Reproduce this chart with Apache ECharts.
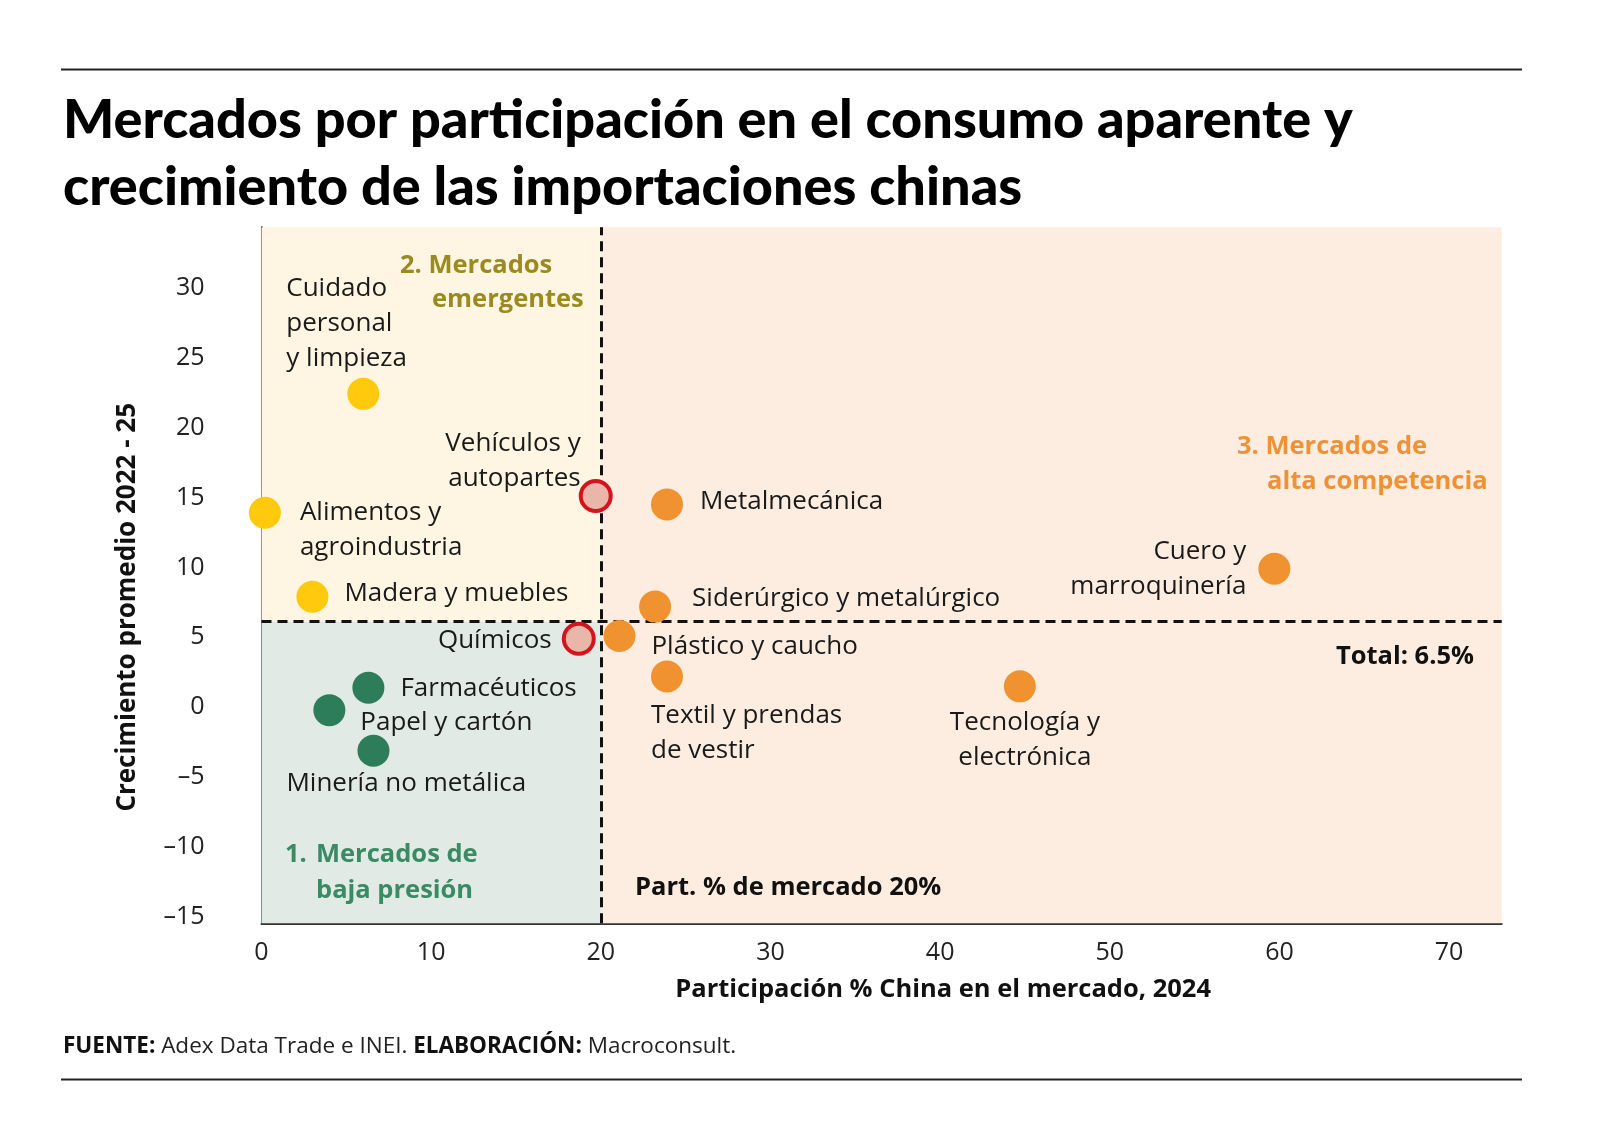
<!DOCTYPE html>
<html>
<head>
<meta charset="utf-8">
<script src="https://cdn.jsdelivr.net/npm/echarts@6/dist/echarts.min.js"></script>
<style>
  html, body { margin: 0; padding: 0; background: #fff; }
  #chart { width: 1600px; height: 1125px; }
</style>
</head>
<body>
<div id="chart"></div>
<script>
// datos
const sectors = [
  'Cuidado personal y limpieza', 'Alimentos y agroindustria', 'Madera y muebles',
  'Vehículos y autopartes', 'Químicos', 'Farmacéuticos', 'Papel y cartón',
  'Minería no metálica', 'Metalmecánica', 'Siderúrgico y metalúrgico',
  'Plástico y caucho', 'Textil y prendas de vestir', 'Tecnología y electrónica',
  'Cuero y marroquinería'
]
const shareChina = [6.0, 0.2, 3.0, 19.7, 18.7, 6.3, 4.0, 6.6, 23.9, 23.2, 21.1, 23.9, 44.7, 59.7]
const growth = [22.4, 13.9, 7.9, 15.1, 4.9, 1.4, -0.2, -3.1, 14.5, 7.2, 5.1, 2.2, 1.5, 9.9]
const group = ['emergente', 'emergente', 'emergente', 'limite', 'limite', 'baja', 'baja',
  'baja', 'alta', 'alta', 'alta', 'alta', 'alta', 'alta']
const xTicks = [0, 10, 20, 30, 40, 50, 60, 70]
const yTicks = [-15, -10, -5, 0, 5, 10, 15, 20, 25, 30]
const totalGrowth = 6.15   // línea "Total: 6.5%" tal como aparece dibujada
const shareLimit = 20
const xMin = 0
const xMax = 73.1
const yMin = -15.43
const yMax = 34.3

const FONT = '"Open Sans"'
const TITLE_FONT = 'Lato'

// etiquetas de cada punto: texto y colocación
const labelLayout = {
  'Cuidado personal y limpieza': { text: 'Cuidado\npersonal\ny limpieza', offset: [-77, -70], align: 'left' },
  'Alimentos y agroindustria': { text: 'Alimentos y\nagroindustria', offset: [35, 17], align: 'left' },
  'Madera y muebles': { text: 'Madera y muebles', offset: [32, -3], align: 'left' },
  'Vehículos y autopartes': { text: 'Vehículos y\nautopartes', offset: [-15, -35], align: 'right' },
  'Químicos': { text: 'Químicos', offset: [-27, 2], align: 'right' },
  'Farmacéuticos': { text: 'Farmacéuticos', offset: [32, 1], align: 'left' },
  'Papel y cartón': { text: 'Papel y cartón', offset: [31, 12], align: 'left' },
  'Minería no metálica': { text: 'Minería no metálica', offset: [-87, 33], align: 'left' },
  'Metalmecánica': { text: 'Metalmecánica', offset: [33, -3], align: 'left' },
  'Siderúrgico y metalúrgico': { text: 'Siderúrgico y metalúrgico', offset: [37, -8], align: 'left' },
  'Plástico y caucho': { text: 'Plástico y caucho', offset: [32, 11], align: 'left' },
  'Textil y prendas de vestir': { text: 'Textil y prendas\nde vestir', offset: [-16, 57], align: 'left' },
  'Tecnología y electrónica': { text: 'Tecnología y\nelectrónica', offset: [5, 54], align: 'center' },
  'Cuero y marroquinería': { text: 'Cuero y\nmarroquinería', offset: [-28, 0], align: 'right' }
}

const groupStyle = {
  emergente: { color: '#FFC90E' },
  baja: { color: '#2E7D5A' },
  alta: { color: '#F0922F' },
  limite: { color: '#EBB6AA', borderColor: '#D3141C', borderWidth: 4 }
}

const buildSeries = (key) => {
  const data = []
  sectors.forEach((name, i) => {
    if (group[i] !== key) return
    const l = labelLayout[name]
    data.push({
      name: name,
      value: [shareChina[i], growth[i]],
      label: {
        show: true,
        position: 'inside',
        formatter: l.text,
        offset: l.offset,
        align: l.align,
        verticalAlign: 'middle',
        fontFamily: FONT,
        fontSize: 26,
        lineHeight: 35,
        color: '#1a1a1a'
      }
    })
  })
  return {
    type: 'scatter',
    name: key,
    symbolSize: key === 'limite' ? 30 : 32,
    itemStyle: Object.assign({ opacity: 1 }, groupStyle[key]),
    data: data,
    z: 5
  }
}

const chart = echarts.init(document.getElementById('chart'))

const boldText = (x, y, text, color, align) => ({
  type: 'text', x: x, y: y, z: 10,
  style: { text: text, fill: color, font: 'bold 25.5px ' + FONT, align: align || 'left', verticalAlign: 'middle' }
})

const option = {
  backgroundColor: '#fff',
  animation: false,
  title: {
    text: 'Mercados por participación en el consumo aparente y\ncrecimiento de las importaciones chinas',
    left: 58,
    top: 82,
    textStyle: {
      fontFamily: TITLE_FONT,
      fontWeight: 900,
      fontSize: 54,
      lineHeight: 67,
      color: '#000'
    }
  },
  grid: {
    left: 261.5,
    right: 98.3,
    top: 227.3,
    bottom: 201.7
  },
  xAxis: {
    type: 'value',
    min: xMin,
    max: xMax,
    interval: 10,
    name: 'Participación % China en el mercado, 2024',
    nameLocation: 'middle',
    nameGap: 53,
    nameTextStyle: {
      fontFamily: FONT,
      fontWeight: 'bold',
      fontSize: 25.5,
      color: '#111',
      padding: [0, 0, 0, 123]
    },
    axisLine: { onZero: false, lineStyle: { color: '#333', width: 2 } },
    axisTick: { show: false },
    splitLine: { show: false },
    axisLabel: {
      margin: 17,
      fontFamily: FONT,
      fontSize: 25,
      color: '#222',
      customValues: xTicks
    }
  },
  yAxis: {
    type: 'value',
    min: yMin,
    max: yMax,
    name: 'Crecimiento promedio 2022 - 25',
    nameLocation: 'middle',
    nameGap: 121,
    nameTextStyle: {
      fontFamily: FONT,
      fontWeight: 'bold',
      fontSize: 26,
      color: '#111',
      padding: [0, 64, 0, 0]
    },
    axisLine: { show: true, onZero: false, lineStyle: { color: '#333', width: 2 } },
    axisTick: { show: false },
    splitLine: { show: false },
    axisLabel: {
      margin: 57,
      fontFamily: FONT,
      fontSize: 25,
      color: '#222',
      customValues: yTicks,
      formatter: v => String(v).replace('-', '–')
    }
  },
  series: [
    {
      // cuadrantes y líneas de referencia
      type: 'scatter',
      data: [],
      silent: true,
      z: 1,
      markArea: {
        silent: true,
        data: [
          [{ xAxis: xMin, yAxis: totalGrowth, itemStyle: { color: '#FEF6E2' } }, { xAxis: shareLimit, yAxis: yMax }],
          [{ xAxis: xMin, yAxis: yMin, itemStyle: { color: '#E2EAE6' } }, { xAxis: shareLimit, yAxis: totalGrowth }],
          [{ xAxis: shareLimit, yAxis: yMin, itemStyle: { color: '#FDEDE0' } }, { xAxis: xMax, yAxis: yMax }]
        ]
      },
      markLine: {
        silent: true,
        symbol: 'none',
        label: { show: false },
        lineStyle: { color: '#111', width: 3, type: [10, 6] },
        data: [
          { xAxis: shareLimit },
          { yAxis: totalGrowth }
        ]
      }
    },
    buildSeries('emergente'),
    buildSeries('baja'),
    buildSeries('alta'),
    buildSeries('limite')
  ],
  graphic: [
    // reglas superior e inferior
    { type: 'line', shape: { x1: 61, y1: 69.5, x2: 1522, y2: 69.5 }, style: { stroke: '#222', lineWidth: 2 } },
    { type: 'line', shape: { x1: 61, y1: 1079.5, x2: 1522, y2: 1079.5 }, style: { stroke: '#222', lineWidth: 2 } },
    // nombres de cuadrantes
    boldText(400, 266, '2. Mercados', '#9B8A1F'),
    boldText(432, 300, 'emergentes', '#9B8A1F'),
    boldText(285, 855, '1.', '#3A8A63'),
    boldText(316, 855, 'Mercados de', '#3A8A63'),
    boldText(316, 891, 'baja presión', '#3A8A63'),
    boldText(1237, 447, '3. Mercados de', '#EE9238'),
    boldText(1267, 482, 'alta competencia', '#EE9238'),
    // notas de referencia
    boldText(1474, 657, 'Total: 6.5%', '#111', 'right'),
    boldText(635, 888, 'Part. % de mercado 20%', '#111'),
    // fuente
    {
      type: 'text', x: 63, y: 1047, z: 10,
      style: {
        text: '{b|FUENTE:} Adex Data Trade e INEI. {b|ELABORACIÓN:} Macroconsult.',
        font: '22.5px ' + FONT,
        fill: '#222',
        verticalAlign: 'middle',
        rich: {
          b: { fontFamily: FONT, fontSize: 22.5, fontWeight: 'bold', fill: '#111' }
        }
      }
    }
  ]
}

chart.setOption(option)
window.addEventListener('resize', () => chart.resize())
</script>
</body>
</html>
